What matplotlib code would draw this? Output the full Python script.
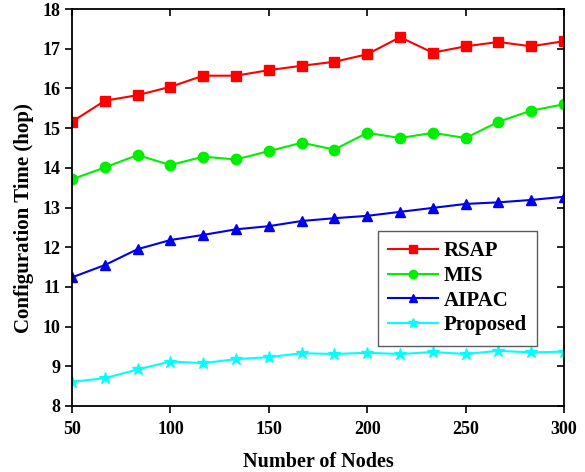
import matplotlib
matplotlib.use("Agg")
import matplotlib.pyplot as plt

plt.rcParams['font.family'] = ['Liberation Serif', 'DejaVu Serif']
plt.rcParams['font.weight'] = 'bold'

nodes = [50, 66.7, 83.3, 100, 116.7, 133.3, 150, 166.7, 183.3, 200,
         216.7, 233.3, 250, 266.7, 283.3, 300]

rsap = [15.16, 15.69, 15.83, 16.04, 16.32, 16.32, 16.46, 16.57, 16.67, 16.86,
        17.29, 16.90, 17.06, 17.17, 17.06, 17.19]
mis = [13.71, 14.01, 14.32, 14.07, 14.28, 14.21, 14.42, 14.63, 14.46, 14.88,
       14.75, 14.88, 14.75, 15.16, 15.44, 15.60]
aipac = [11.24, 11.55, 11.95, 12.18, 12.31, 12.45, 12.53, 12.66, 12.73, 12.79,
         12.89, 12.99, 13.09, 13.13, 13.19, 13.27]
proposed = [8.61, 8.70, 8.92, 9.12, 9.08, 9.18, 9.23, 9.33, 9.31, 9.34,
            9.31, 9.36, 9.31, 9.39, 9.35, 9.37]

x_ticks = [50, 100, 150, 200, 250, 300]
y_ticks = [8, 9, 10, 11, 12, 13, 14, 15, 16, 17, 18]

fig = plt.figure(figsize=(5.85, 4.72), dpi=100)
ax = fig.add_axes([72 / 585, 1 - 406 / 472, (564 - 72) / 585, (406 - 9) / 472])

ax.plot(nodes, rsap, color='#ff0000', marker='s', markersize=6.5, lw=1.5, label='RSAP')
ax.plot(nodes, mis, color='#00ee00', marker='o', markersize=7.5, lw=1.5, label='MIS')
ax.plot(nodes, aipac, color='#0000ee', marker='^', markersize=7.5, lw=1.5, label='AIPAC')
ax.plot(nodes, proposed, color='#00ffff', marker='*', markersize=9, lw=1.5, label='Proposed')

ax.set_xlim(50, 300)
ax.set_ylim(8, 18)
ax.set_xticks(x_ticks)
ax.set_yticks(y_ticks)
ax.tick_params(axis='both', which='major', direction='out', length=5, width=1.2,
               labelsize=13)
ax.tick_params(axis='x', pad=6)
ax.tick_params(top=True, right=True)
for t in ax.xaxis.get_major_ticks():
    t.tick2line.set_marker(matplotlib.lines.TICKDOWN)
for t in ax.yaxis.get_major_ticks():
    t.tick2line.set_marker(matplotlib.lines.TICKLEFT)
for lab in ax.get_xticklabels() + ax.get_yticklabels():
    lab.set_fontweight('bold')
for s in ax.spines.values():
    s.set_linewidth(1.3)

ax.set_xlabel('Number of Nodes', fontsize=14.5, fontweight='bold', labelpad=10)
ax.set_ylabel('Configuration Time (hop)', fontsize=15, fontweight='bold')
ax.yaxis.set_label_coords(-0.078, 0.474)

leg = ax.legend(loc='upper left', bbox_to_anchor=((378 - 72) / 492, (406 - 231) / 397),
                prop={'weight': 'bold', 'size': 15}, fancybox=False,
                edgecolor='#333333', handlelength=2.4, borderpad=0.5,
                labelspacing=0.22, handletextpad=0.25, markerscale=0.8,
                borderaxespad=0)
leg.get_frame().set_linewidth(1.0)

fig.savefig('out.png', dpi=100)
